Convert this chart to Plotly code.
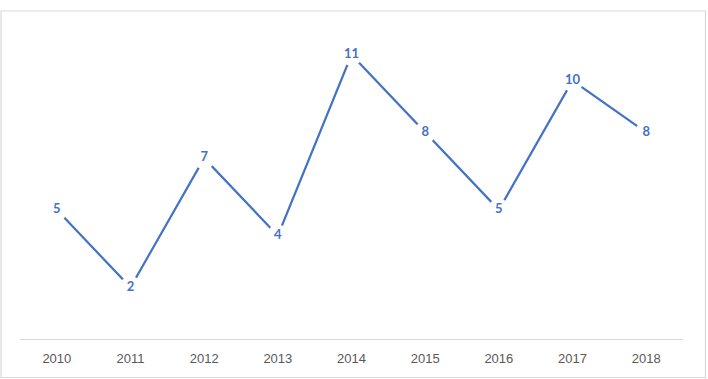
import plotly.graph_objects as go

years = ["2010", "2011", "2012", "2013", "2014", "2015", "2016", "2017", "2018"]
values = [5, 2, 7, 4, 11, 8, 5, 10, 8]

blue = "#4472C4"

fig = go.Figure()
fig.add_trace(go.Scatter(
    x=years, y=values,
    mode="lines+markers+text",
    line=dict(color=blue, width=2.2),
    marker=dict(symbol="circle", size=22, color="white", line=dict(width=0)),
    text=[str(v) for v in values],
    textposition="middle center",
    textfont=dict(family="Lato, 'Open Sans', sans-serif", size=13, color=blue, weight="bold"),
    cliponaxis=False,
    hoverinfo="x+y",
))

W, H = 708, 379
L, R, T, B = 20, 25, 29, 40
pw, ph = W - L - R, H - T - B

def px2paper_x(px):
    return (px - L) / pw

def px2paper_y(py):
    return (H - B - py) / ph

fig.add_shape(type="rect", xref="paper", yref="paper",
              x0=px2paper_x(1), x1=px2paper_x(705.5),
              y0=px2paper_y(377.5), y1=px2paper_y(11),
              line=dict(color="#d9d9d9", width=1.2), fillcolor="rgba(0,0,0,0)", layer="below")

fig.update_layout(
    width=W, height=H,
    margin=dict(l=L, r=R, t=T, b=B),
    paper_bgcolor="white", plot_bgcolor="white",
    showlegend=False,
    xaxis=dict(type="category", range=[-0.5, 8.5], showgrid=False, zeroline=False,
               showline=True, linecolor="#d9d9d9", linewidth=1.2,
               ticks="", tickfont=dict(family="'Liberation Sans', Arial, sans-serif", size=13, color="#595959"),
               ticklabelstandoff=7),
    yaxis=dict(range=[0, 12], visible=False, showgrid=False, zeroline=False),
)

fig.write_html("out.html")
